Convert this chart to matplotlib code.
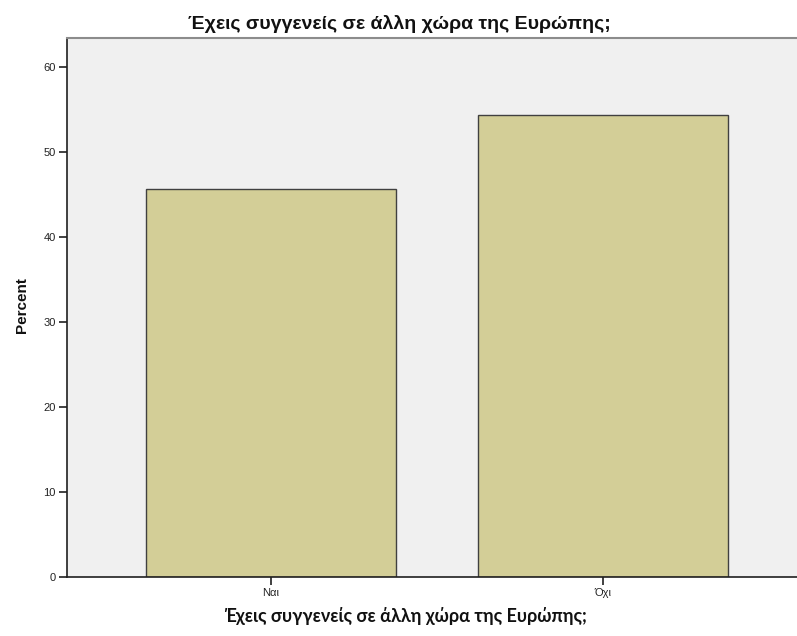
import matplotlib
matplotlib.use('Agg')
import matplotlib.pyplot as plt

# 数据
categories = ['Ναι', 'Όχι']
percent = [45.6, 54.4]
y_ticks = [0, 10, 20, 30, 40, 50, 60]
title = 'Έχεις συγγενείς σε άλλη χώρα της Ευρώπης;'

plt.rcParams['font.family'] = ['Liberation Sans', 'DejaVu Sans']

fig = plt.figure(figsize=(7.97, 6.36), dpi=100)
ax = fig.add_axes([67 / 797, 59 / 636, 730 / 797, 539 / 636])
ax.set_facecolor('#F0F0F0')

x = range(len(categories))
ax.bar(x, percent, width=0.753, color='#D3CE97', edgecolor='#404040', linewidth=1.0)

ax.set_xlim(-0.614, 1.584)
ax.set_ylim(0, 63.4)
ax.set_xticks(list(x))
ax.set_xticklabels(categories, fontsize=8, color='#222222')
ax.set_yticks(y_ticks)
ax.set_yticklabels([str(v) for v in y_ticks], fontsize=8, color='#222222')
ax.tick_params(direction='out', length=6, width=1.2, color='#202020', pad=2)

ax.spines['right'].set_visible(False)
ax.spines['top'].set_color('#8C8C8C')
ax.spines['top'].set_linewidth(1.5)
ax.spines['left'].set_color('#202020')
ax.spines['bottom'].set_color('#202020')
ax.spines['left'].set_linewidth(1.2)
ax.spines['bottom'].set_linewidth(1.2)

# 标题和轴标签
fig.text(399 / 797, 1 - 29 / 636, title, ha='center', va='baseline', fontsize=14,
         fontweight='bold', color='#111111')
fig.text(405 / 797, 1 - 622 / 636, title, ha='center', va='baseline', fontsize=13,
         fontweight='bold', color='#111111', family=['Lato', 'DejaVu Sans'])
fig.text(22 / 797, 1 - 305 / 636, 'Percent', ha='center', va='center', rotation=90,
         fontsize=11, fontweight='bold', color='#111111')

plt.savefig('out.png', dpi=100, facecolor='white')
plt.close()
